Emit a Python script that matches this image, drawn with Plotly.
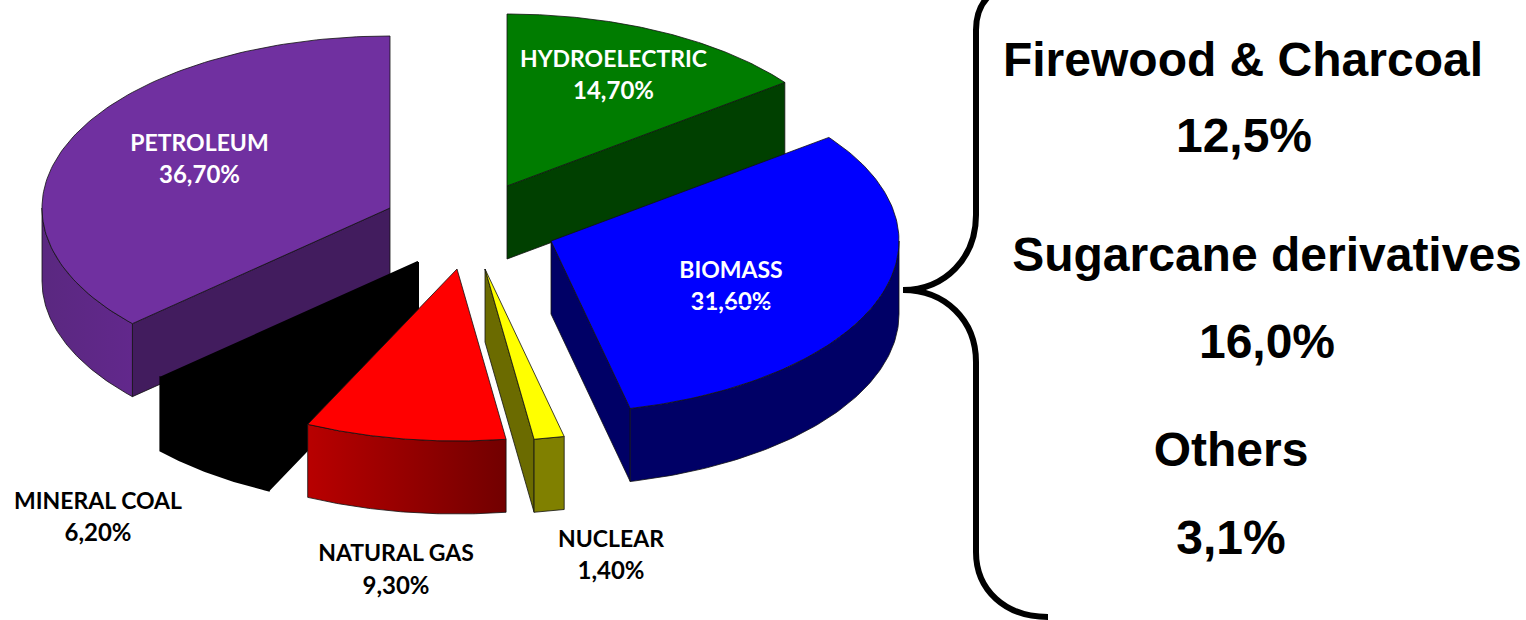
import numpy as np
import plotly.graph_objects as go

# Energy mix: slices run clockwise from twelve o'clock
sources = ["HYDROELECTRIC", "BIOMASS", "NUCLEAR", "NATURAL GAS", "MINERAL COAL", "PETROLEUM"]
shares = [14.7, 31.6, 1.4, 9.3, 6.2, 36.7]

# Exploded position of each slice's apex on the canvas
apex_x = [507, 551, 485, 457, 418, 390]
apex_y = [186, 241, 269, 269, 262, 208]

top_colors = ["#007C00", "#0000FF", "#FFFF00", "#FF0000", "#000000", "#7030A0"]
cut_colors = ["#004000", "#000066", "#6B6B00", "#000000", "#000000", "#421C5E"]
rim_left = ["#004000", "#000066", "#808000", "#B80000", "#000000", "#5A2880"]
rim_right = ["#004000", "#000066", "#808000", "#720000", "#000000", "#62288C"]
label_colors = ["white", "white", "black", "black", "black", "white"]

label_x = [613.5, 731, 611, 396, 98, 199.5]
name_y = [61, 272, 541, 555, 503, 145]
value_y = [93, 304, 573, 588, 535, 177]

# Back-to-front painting order
draw_order = [0, 5, 4, 3, 2, 1]

# Biomass breakdown
detail_text = ["Firewood & Charcoal", "12,5%", "Sugarcane derivatives", "16,0%", "Others", "3,1%"]
detail_x = [1243, 1244, 1267, 1267, 1231, 1231]
detail_y = [64, 140, 259, 346, 454, 542]

RX, RY, DEPTH = 348, 172, 73


def rim_point(cx, cy, deg):
    a = np.radians(deg)
    return cx + RX * np.sin(a), cy - RY * np.cos(a)


def polygon(xs, ys, color, gradient=None):
    # A heavier outline on black faces closes the seams between them
    is_black = color == "#000000"
    trace = dict(x=list(xs), y=list(ys), mode="lines", fill="toself",
                 line=dict(color="#000000" if is_black else "#111111", width=2 if is_black else 0.8),
                 hoverinfo="skip", showlegend=False)
    if gradient:
        trace["fillgradient"] = dict(type="horizontal",
                                     colorscale=[[0, gradient[0]], [1, gradient[1]]])
    else:
        trace["fillcolor"] = color
    return go.Scatter(**trace)


def radial_face(cx, cy, deg, color):
    px, py = rim_point(cx, cy, deg)
    return polygon([cx, px, px, cx, cx], [cy, py, py + DEPTH, cy + DEPTH, cy], color)


fig = go.Figure()
total = sum(shares)
bounds = np.concatenate([[0], np.cumsum(shares) / total * 360])

for i in draw_order:
    a0, a1 = bounds[i], bounds[i + 1]
    cx, cy = apex_x[i], apex_y[i]

    # Cut faces turned towards the viewer
    if 180 < a0 < 360:
        fig.add_trace(radial_face(cx, cy, a0, cut_colors[i]))
    if 0 < a1 < 180:
        fig.add_trace(radial_face(cx, cy, a1, cut_colors[i]))

    # Outer wall, only on the front half of the ellipse
    lo, hi = max(a0, 90), min(a1, 270)
    if lo < hi:
        arc = np.linspace(lo, hi, 80)
        ax, ay = rim_point(cx, cy, arc)
        fig.add_trace(polygon(np.r_[ax, ax[::-1], ax[0]],
                              np.r_[ay, ay[::-1] + DEPTH, ay[0]],
                              rim_left[i], gradient=(rim_left[i], rim_right[i])))

    # Top face
    arc = np.linspace(a0, a1, 120)
    ax, ay = rim_point(cx, cy, arc)
    fig.add_trace(polygon(np.r_[cx, ax, cx], np.r_[cy, ay, cy], top_colors[i]))

# Slice names with their percentages
value_labels = [f"{value:.2f}%".replace(".", ",") for value in shares]
fig.add_trace(go.Scatter(
    x=label_x, y=name_y, text=sources, mode="text", textposition="middle center",
    textfont=dict(family="Lato", size=23, color=label_colors, weight=700),
    hoverinfo="skip", showlegend=False, cliponaxis=False))
fig.add_trace(go.Scatter(
    x=label_x, y=value_y, text=value_labels, mode="text", textposition="middle center",
    textfont=dict(family="Lato", size=24, color=label_colors, weight=700),
    hoverinfo="skip", showlegend=False, cliponaxis=False))

fig.add_trace(go.Scatter(
    x=detail_x, y=detail_y, text=detail_text, mode="text", textposition="middle center",
    textfont=dict(family="Liberation Sans", size=48, color="black", weight=700),
    hoverinfo="skip", showlegend=False, cliponaxis=False))

# Curly brace tying the biomass slice to its breakdown
brace = ("M 988 -3 C 980 5, 976 15, 976 30 L 976 215 C 976 258, 945 290, 903 290 "
         "C 945 290, 976 320, 976 362 L 976 552 C 976 590, 1005 617, 1048 617")

fig.update_layout(
    width=1526, height=620, margin=dict(l=0, r=0, t=0, b=0),
    paper_bgcolor="white", plot_bgcolor="white", showlegend=False, hovermode=False,
    xaxis=dict(range=[0, 1526], visible=False, fixedrange=True),
    yaxis=dict(range=[620, 0], visible=False, fixedrange=True),
    shapes=[
        dict(type="path", path=brace, xref="x", yref="y",
             line=dict(color="black", width=6), fillcolor="rgba(0,0,0,0)"),
        dict(type="line", x0=691, x1=771, y0=305, y1=305, xref="x", yref="y",
             line=dict(color="#0000FF", width=1.5)),
    ],
)

fig.write_html("out.html", config=dict(displayModeBar=False))
